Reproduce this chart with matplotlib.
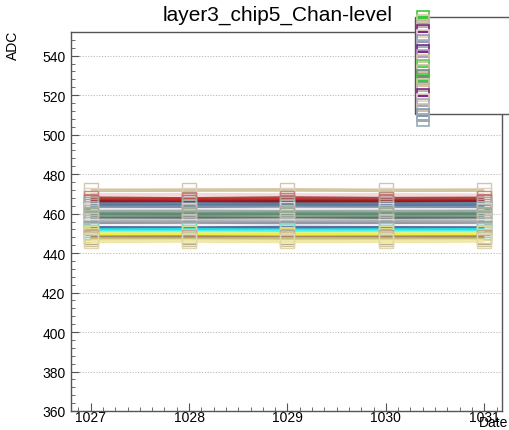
import matplotlib
matplotlib.use("Agg")
import matplotlib.pyplot as plt
from matplotlib.lines import Line2D
from matplotlib.patches import Rectangle
from matplotlib.ticker import MultipleLocator
from matplotlib.colors import to_rgb

plt.rcParams['font.family'] = ['Liberation Sans', 'DejaVu Sans']

dates = [1027, 1028, 1029, 1030, 1031]

# channel pedestal values (ADC) per date
chan_values = [
    [471.8, 471.9, 472.0, 471.8, 471.9],
    [469.5, 469.6, 469.4, 469.5, 469.3],
    [467.8, 467.5, 467.9, 467.6, 467.7],
    [466.6, 466.8, 466.7, 466.5, 466.6],
    [465.9, 465.7, 466.0, 465.8, 465.9],
    [464.8, 464.9, 464.7, 464.8, 465.0],
    [464.0, 463.9, 464.1, 464.0, 463.8],
    [463.0, 463.2, 463.1, 462.9, 463.0],
    [462.0, 461.9, 462.1, 462.0, 461.9],
    [461.0, 461.1, 460.9, 461.0, 461.1],
    [460.0, 459.8, 460.1, 459.9, 460.0],
    [459.2, 459.3, 459.1, 459.2, 459.4],
    [458.3, 458.1, 458.4, 458.2, 458.3],
    [457.5, 457.6, 457.4, 457.6, 457.5],
    [456.6, 456.5, 456.7, 456.4, 456.6],
    [455.6, 455.7, 455.5, 455.8, 455.6],
    [454.7, 454.6, 454.8, 454.7, 454.5],
    [453.8, 453.9, 453.7, 453.8, 453.9],
    [452.8, 452.7, 452.9, 452.8, 452.7],
    [451.7, 451.8, 451.6, 451.7, 451.8],
    [450.9, 450.8, 451.0, 450.9, 450.8],
    [450.0, 450.1, 449.9, 450.0, 450.1],
    [449.0, 448.9, 449.1, 449.0, 448.9],
    [448.0, 448.1, 447.9, 448.0, 448.1],
    [447.1, 447.0, 447.2, 447.1, 447.0],
    [446.0, 446.1, 445.9, 446.0, 446.1],
]

chan_colors = [
    '#d2c6a0', '#f2d8d8', '#a84848', '#d41c1c', '#8e1e1e', '#6482a2',
    '#5a7aa0', '#7c92aa', '#e8e8f0', '#a2aaa8', '#6f9a80', '#5c8c70',
    '#8aa494', '#5f7070', '#c4c4c4', '#a8a8a8', '#9098aa', '#f2f2f2',
    '#5c6ca0', '#22dede', '#48f2f2', '#e2f084', '#eeee3c', '#a48462',
    '#c8c07a', '#f0e8a8',
]

legend_colors = [
    '#3cc83c', '#d2c6a0', '#c0b4a0', '#7a2a8a', '#e6d8c8', '#9a9aa8',
    '#a0b0c0', '#7a2a8a', '#b0a0c0', '#d2c6a0', '#5cd05c', '#c8c0a8',
    '#7a8a7a', '#3cc83c', '#d2c6a0', '#c0b4a0', '#7a2a8a', '#e6d8c8',
    '#a8a8b8', '#c8c0b0', '#8a9aaa', '#9aaab8',
]


def soften(col, k=0.55):
    r, g, b = to_rgb(col)
    base = to_rgb('#cfc8b4')
    return tuple(k * x + (1 - k) * y for x, y in zip(base, (r, g, b)))


fig = plt.figure(figsize=(5.10, 4.31), dpi=100)
ax = fig.add_axes([71 / 510, 19 / 431, 431 / 510, 379 / 431])

for vals, col in zip(chan_values, chan_colors):
    ax.plot(dates, vals, color=col, lw=2.6, marker='s', ms=10.5,
            mfc='none', mec=soften(col), mew=1.0, solid_capstyle='butt')

ax.set_xlim(1026.8, 1031.18)
ax.set_ylim(360, 552)
ax.xaxis.set_major_locator(MultipleLocator(1))
ax.xaxis.set_minor_locator(MultipleLocator(0.125))
ax.yaxis.set_major_locator(MultipleLocator(20))
ax.yaxis.set_minor_locator(MultipleLocator(4))
ax.tick_params(which='both', direction='in', top=False, right=False,
               labelsize=10, color='#555555')
ax.tick_params(which='major', length=6, pad=4)
ax.tick_params(which='minor', length=3)
ax.tick_params(axis='x', pad=-1)
ax.grid(axis='y', which='major', ls=(0, (1, 1.5)), lw=0.8, color='#b8b8b8')
ax.set_axisbelow(True)
for sp in ax.spines.values():
    sp.set_color('#555555')
    sp.set_linewidth(1.0)

fig.text(278 / 510, 1 - 15 / 431, 'layer3_chip5_Chan-level', ha='center',
         va='center', fontsize=15)
fig.text(13 / 510, 1 - 31 / 431, 'ADC', rotation=90, ha='center',
         va='top', fontsize=10)
fig.text(508 / 510, 1 - 430 / 431, 'Date', ha='right', va='bottom',
         fontsize=10)

# legend box
fig.patches.append(Rectangle((415 / 510, 1 - 115 / 431), 100 / 510, 97 / 431,
                             transform=fig.transFigure, fill=True,
                             facecolor='white', edgecolor='#555555', lw=1.0,
                             zorder=5))
handles = [Line2D([], [], color=c, lw=2.2, marker='s', ms=9, mfc='none',
                  mec=c, mew=1.2) for c in legend_colors]
leg = fig.legend(handles, [''] * len(handles), loc='upper left',
                 bbox_to_anchor=(418 / 510, 1 - 15 / 431), frameon=False,
                 fontsize=5, labelspacing=-0.3, handlelength=1.3,
                 handletextpad=0, borderpad=0, borderaxespad=0)
leg.set_zorder(6)

fig.savefig('out.png', dpi=100)
